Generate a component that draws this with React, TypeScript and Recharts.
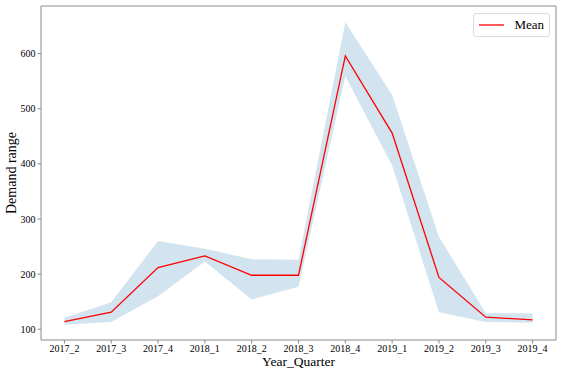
import React from 'react';
import { ComposedChart, Area, Line, XAxis, YAxis, Legend } from 'recharts';

const quarters = ['2017_2', '2017_3', '2017_4', '2018_1', '2018_2', '2018_3', '2018_4', '2019_1', '2019_2', '2019_3', '2019_4'];
const meanDemand = [114, 131, 212, 233, 198, 198, 596, 456, 194, 122, 117];
const upperDemand = [121, 149, 260, 246, 227, 226, 657, 525, 268, 129, 129];
const lowerDemand = [108, 113, 160, 223, 154, 177, 559, 397, 131, 113, 112];
const yTicks = [100, 200, 300, 400, 500, 600];

const data = quarters.map((q, i) => ({
  quarter: q,
  mean: meanDemand[i],
  range: [lowerDemand[i], upperDemand[i]],
}));

const font = '"Liberation Serif", "Times New Roman", serif';
const axisColor = '#8a8a8a';

const renderLegend = () => (
  <div
    style={{
      display: 'flex',
      alignItems: 'center',
      border: '1px solid #dcdcdc',
      borderRadius: 3,
      background: 'rgba(255,255,255,0.8)',
      padding: '2px 5px',
      height: 18,
      fontFamily: font,
      fontSize: 13,
      color: '#000',
    }}
  >
    <svg width={27} height={4} style={{ marginRight: 10 }}>
      <line x1={0} y1={2} x2={27} y2={2} stroke="#ff0000" strokeWidth={1.3} />
    </svg>
    <span>Mean</span>
  </div>
);

const App: React.FC = () => {
  return (
    <div style={{ position: 'absolute', left: 0, top: 0, width: 564, height: 376, background: '#fff' }}>
      <ComposedChart
        width={564}
        height={376}
        data={data}
        margin={{ top: 5, right: 7, bottom: 0, left: 0 }}
        style={{ fontFamily: font }}
      >
        <XAxis
          dataKey="quarter"
          height={36}
          padding={{ left: 23.4, right: 23.4 }}
          stroke={axisColor}
          tickSize={3.5}
          tickMargin={1}
          tick={{ fill: '#000', fontSize: 10, fontFamily: font }}
          interval={0}
          label={{ value: 'Year_Quarter', position: 'insideBottom', offset: 10, fill: '#000', fontSize: 13.5, fontFamily: font }}
        />
        <XAxis
          xAxisId="top"
          dataKey="quarter"
          orientation="top"
          height={1}
          padding={{ left: 23.4, right: 23.4 }}
          tick={false}
          tickLine={false}
          stroke={axisColor}
        />
        <YAxis
          width={41}
          domain={[80.5, 686.5]}
          ticks={yTicks}
          stroke={axisColor}
          tickSize={3.5}
          tickMargin={2}
          tick={{ fill: '#000', fontSize: 10, fontFamily: font }}
          label={{
            content: () => (
              <text x={13} y={173} transform="rotate(-90 13 173)" textAnchor="middle" dominantBaseline="middle" fontSize={14} fontFamily={font} fill="#000">
                Demand range
              </text>
            ),
          }}
        />
        <YAxis
          yAxisId="right"
          orientation="right"
          width={1}
          domain={[80.5, 686.5]}
          ticks={yTicks}
          tick={false}
          tickLine={false}
          stroke={axisColor}
        />
        <Area
          dataKey="range"
          stroke="none"
          fill="#1f77b4"
          fillOpacity={0.2}
          isAnimationActive={false}
          legendType="none"
        />
        <Line dataKey="mean" name="Mean" stroke="#ff0000" strokeWidth={1.3} dot={false} isAnimationActive={false} />
        <Legend
          verticalAlign="middle"
          align="center"
          layout="horizontal"
          content={renderLegend}
          wrapperStyle={{ top: 13, left: 473, width: 77, height: 23 }}
        />
      </ComposedChart>
    </div>
  );
};

export default App;
